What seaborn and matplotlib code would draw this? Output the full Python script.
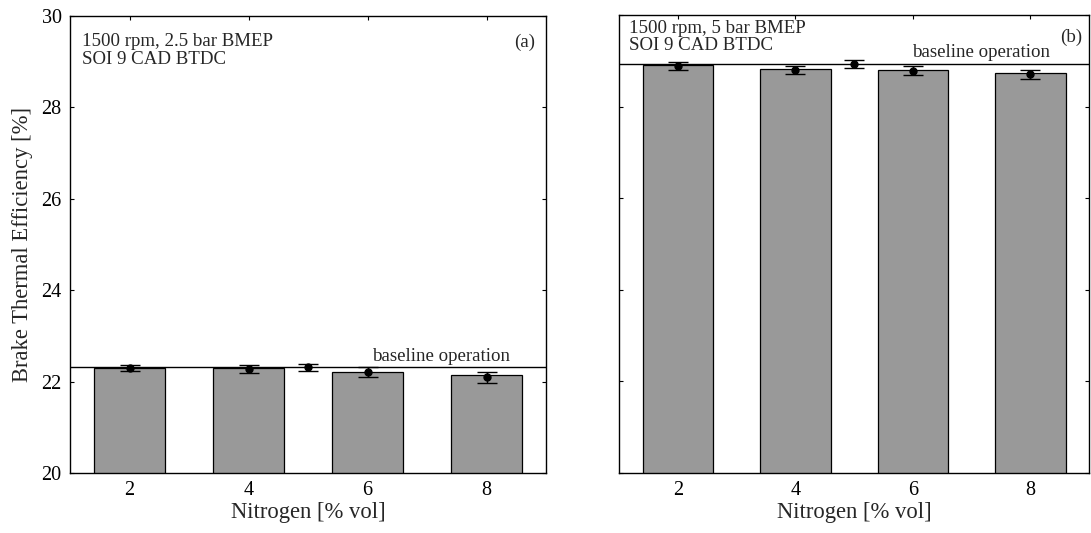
import matplotlib
matplotlib.use("Agg")
import matplotlib.pyplot as plt
import pandas as pd
import seaborn as sns

# data
nitrogen = [2, 4, 6, 8]
baseline_x = 5

bte_low_bar = [22.30, 22.29, 22.22, 22.14]
bte_low_mean = [22.30, 22.27, 22.21, 22.09]
bte_low_err = [0.065, 0.085, 0.10, 0.13]
bte_low_base = 22.31
bte_low_base_err = 0.08

bte_high_bar = [28.91, 28.82, 28.79, 28.73]
bte_high_mean = [28.89, 28.80, 28.78, 28.71]
bte_high_err = [0.09, 0.09, 0.10, 0.10]
bte_high_base = 28.93
bte_high_base_err = 0.09

panels = [
    ("1500 rpm, 2.5 bar BMEP\nSOI 9 CAD BTDC", "(a)",
     bte_low_bar, bte_low_mean, bte_low_err, bte_low_base, bte_low_base_err),
    ("1500 rpm, 5 bar BMEP\nSOI 9 CAD BTDC", "(b)",
     bte_high_bar, bte_high_mean, bte_high_err, bte_high_base, bte_high_base_err),
]

sns.set_theme(style="white")
plt.rcParams["font.family"] = ["Liberation Serif", "DejaVu Serif"]
plt.rcParams["mathtext.fontset"] = "stix"

fig = plt.figure(figsize=(10.91, 5.33), dpi=100)
W, H = 1091, 533
ax_boxes = [
    [70 / W, 1 - 473 / H, 476 / W, 457 / H],
    [619 / W, 1 - 473 / H, 470 / W, 458 / H],
]

for i, (cond, tag, bars, means, errs, base, base_err) in enumerate(panels):
    ax = fig.add_axes(ax_boxes[i])
    df = pd.DataFrame({"Nitrogen": nitrogen, "BTE": bars})
    sns.barplot(data=df, x="Nitrogen", y="BTE", native_scale=True, width=0.6,
                color="#999999", saturation=1, edgecolor="black", linewidth=0.9,
                errorbar=None, ax=ax, zorder=2)
    ax.axhline(base, color="black", lw=1.0, zorder=3)
    ax.errorbar(nitrogen, means, yerr=errs, fmt="o", color="black", ms=5,
                capsize=7, elinewidth=1.0, capthick=1.0, zorder=4)
    ax.errorbar([baseline_x], [base], yerr=[base_err], fmt="o", color="black",
                ms=5, capsize=7, elinewidth=1.0, capthick=1.0, zorder=4)
    ax.text(6.07 if i == 0 else 5.98, base + 0.06, "baseline operation",
            fontsize=13.6, ha="left", va="bottom")

    ax.set_xlim(1, 9)
    ax.set_ylim(20, 30)
    ax.set_xticks(nitrogen)
    ax.set_xticklabels([str(n) for n in nitrogen])
    ax.set_yticks([20, 22, 24, 26, 28, 30])
    ax.tick_params(direction="in", length=3, width=0.8, top=True, right=True,
                   bottom=True, left=True, labelsize=14.5, pad=6, colors="black")
    for sp in ax.spines.values():
        sp.set_color("black")
        sp.set_linewidth(1.0)
    ax.set_xlabel("Nitrogen [% vol]", fontsize=16.3, labelpad=1)
    if i == 0:
        ax.set_ylabel("Brake Thermal Efficiency [%]", fontsize=16.3, labelpad=6)
        ax.text(0.025, 0.962, cond, transform=ax.transAxes, fontsize=13.6,
                ha="left", va="top", linespacing=1.05)
        ax.text(0.977, 0.962, tag, transform=ax.transAxes, fontsize=13.6,
                ha="right", va="top")
    else:
        ax.set_ylabel("")
        ax.set_yticklabels([])
        ax.text(0.021, 0.99, cond, transform=ax.transAxes, fontsize=13.6,
                ha="left", va="top", linespacing=1.05)
        ax.text(0.985, 0.97, tag, transform=ax.transAxes, fontsize=13.6,
                ha="right", va="top")

fig.savefig("out.png", dpi=100)
